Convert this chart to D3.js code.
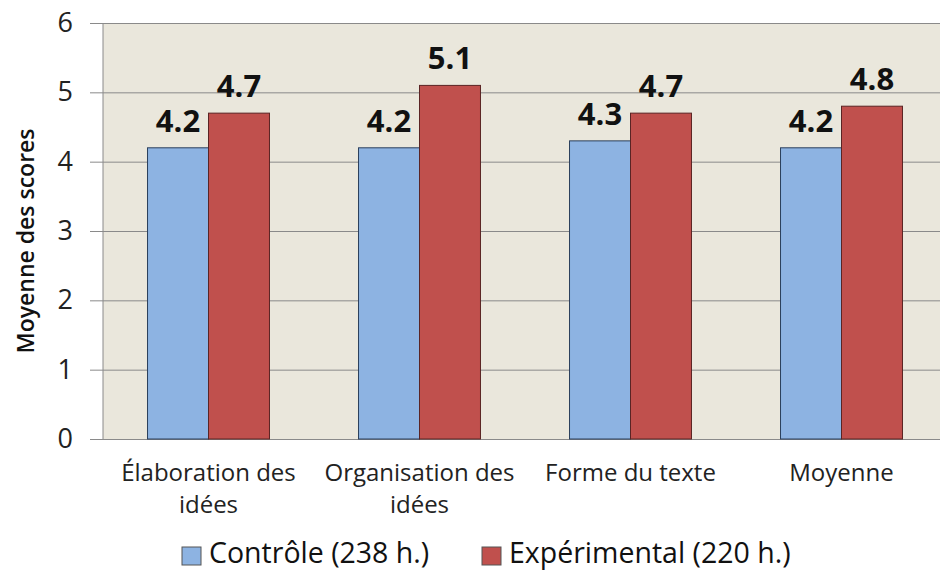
<!DOCTYPE html>
<html><head><meta charset="utf-8">
<script src="https://cdn.jsdelivr.net/npm/d3@7"></script>
<style>body{margin:0;background:#fff;} svg{display:block;font-family:"Open Sans",sans-serif;}</style>
</head><body>
<svg id="c" width="940" height="573"></svg>
<script>
const categories = [["Élaboration des","idées"],["Organisation des","idées"],["Forme du texte"],["Moyenne"]];
const seriesNames = ["Contrôle (238 h.)","Expérimental (220 h.)"];
const controle = [4.2,4.2,4.3,4.2];
const experimental = [4.7,5.1,4.7,4.8];
const yTicks = [0,1,2,3,4,5,6];
const colors = ["#8db3e2","#c0504d"];
const strokes = ["#2b3f5c","#5a2424"];

const svg = d3.select("#c");
const m = {l:103, t:23, r:947, b:439};
const x0 = d3.scaleBand().domain(d3.range(categories.length)).range([m.l, m.r]).paddingInner(0).paddingOuter(0);
const x1 = d3.scaleBand().domain([0,1]).range([0, x0.bandwidth()]).paddingOuter(0.73).paddingInner(0);
const y = d3.scaleLinear().domain([0,6]).range([m.b, m.t]);

svg.append("rect").attr("x",m.l).attr("y",m.t).attr("width",m.r-m.l).attr("height",m.b-m.t).attr("fill","#eae7dc");

const gy = svg.append("g").attr("transform",`translate(${m.l},0)`)
  .call(d3.axisLeft(y).tickValues(yTicks).tickSize(13).tickFormat(d3.format("d")));
gy.select(".domain").remove();
gy.selectAll(".tick line").attr("stroke","#8a8a8a").attr("x2", m.r-m.l).attr("x1",-13);
gy.selectAll(".tick text").attr("x",-30).attr("font-size",27).attr("fill","#222").attr("font-family","Open Sans");
svg.append("line").attr("x1",m.l).attr("x2",m.l).attr("y1",m.t).attr("y2",m.b).attr("stroke","#8a8a8a");

const data = [controle, experimental];
data.forEach((vals,s)=>{
  svg.append("g").selectAll("rect").data(vals).join("rect")
    .attr("x",(d,i)=>x0(i)+x1(s)).attr("width",x1.bandwidth())
    .attr("y",d=>y(d)).attr("height",d=>y(0)-y(d))
    .attr("fill",colors[s]).attr("stroke",strokes[s]).attr("stroke-width",1);
  svg.append("g").selectAll("text").data(vals).join("text")
    .attr("x",(d,i)=>x0(i)+x1(s)+x1.bandwidth()/2)
    .attr("y",d=>y(d)-16).attr("text-anchor","middle")
    .attr("font-size",31).attr("font-weight","bold").attr("fill","#111")
    .text(d=>d3.format(".1f")(d));
});

const cl = svg.append("g");
categories.forEach((lines,i)=>{
  const cx = x0(i)+x0.bandwidth()/2;
  const t = cl.append("text").attr("x",cx).attr("y",481).attr("text-anchor","middle")
    .attr("font-size",24).attr("fill","#222");
  lines.forEach((ln,k)=>t.append("tspan").attr("x",cx).attr("dy",k===0?0:32).text(ln));
});

svg.append("text").attr("transform","translate(25,241) rotate(-90)").attr("text-anchor","middle")
  .attr("dominant-baseline","central")
  .attr("font-size",23).attr("font-weight","600").attr("fill","#111").text("Moyenne des scores");

const legX = [182, 482];
seriesNames.forEach((n,s)=>{
  svg.append("rect").attr("x",legX[s]).attr("y",547).attr("width",19).attr("height",18)
    .attr("fill",colors[s]).attr("stroke","#555").attr("stroke-width",1);
  svg.append("text").attr("x",legX[s]+27).attr("y",563).attr("font-size",28.5).attr("fill","#111").text(n);
});
</script>
</body></html>
